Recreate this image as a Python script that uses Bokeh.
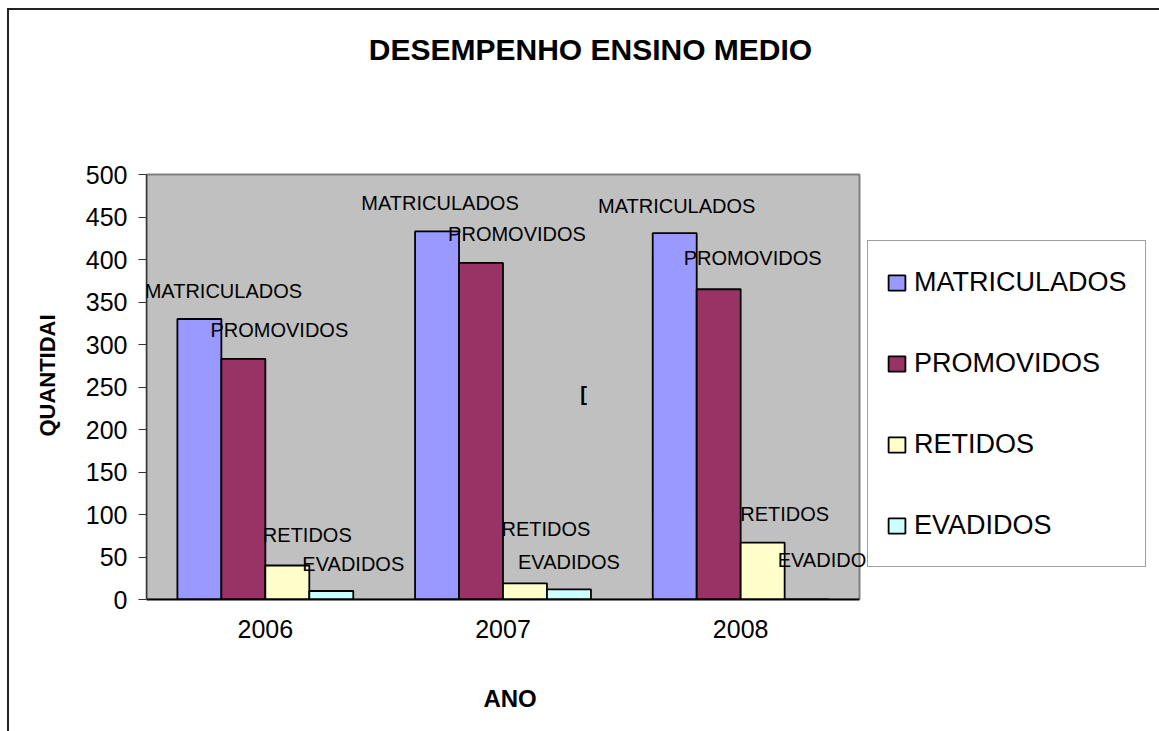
import math
from bokeh.plotting import figure
from bokeh.models import (Range1d, FixedTicker, ColumnDataSource, LabelSet,
                          Label, Legend, LegendItem, LinearAxis)
from bokeh.transform import dodge
from bokeh.core.properties import value
from bokeh.embed import file_html
from bokeh.resources import INLINE

# ---------------- data ----------------
years = ["2006", "2007", "2008"]
series = ["MATRICULADOS", "PROMOVIDOS", "RETIDOS", "EVADIDOS"]
matriculados = [330, 433, 431]
promovidos = [283, 396, 365]
retidos = [40, 19, 67]
evadidos = [10, 12, 0]
y_ticks = [0, 50, 100, 150, 200, 250, 300, 350, 400, 450, 500]

title_text = "DESEMPENHO ENSINO MEDIO"
y_title = "QUANTIDAI"
x_title = "ANO"

# ---------------- style / layout ----------------
colors = ["#9999FF", "#993366", "#FFFFCC", "#CCFFFF"]
bar_w = 0.185
offsets = [-1.5 * bar_w, -0.5 * bar_w, 0.5 * bar_w, 1.5 * bar_w]
# data-label pixel offsets (dx right, dy up) relative to the bar top
label_dx = [[24, 3, 2], [36, 36, 34], [20, 21, 22], [22, 0, 22]]
label_dy = [[28, 28, 27], [29, 29, 31], [31, 54, 29], [27, 27, 40]]
FONT = "Liberation Sans"

W, H = 1159, 731
LEFT, BOTTOM = 146, 132          # pixel margins of the plotting area
AREA_W, AREA_TOP = 713, 174      # width of plot area, its top in canvas px
px_per_cat = AREA_W / len(years)
y_max = y_ticks[-1]
px_per_unit = (H - BOTTOM - AREA_TOP) / y_max

values = [matriculados, promovidos, retidos, evadidos]
xpos = [i + 1 for i in range(len(years))]

x_start = 0.5
x_end = x_start + (W - LEFT) / px_per_cat
y_end = (H - BOTTOM) / px_per_unit

# where the axis titles sit (in axis units)
x_title_at = 2.03
y_title_at = 263.5

p = figure(width=W, height=H,
           x_range=Range1d(x_start, x_end), y_range=Range1d(0, y_end),
           output_backend="svg", toolbar_location=None,
           min_border_left=LEFT, min_border_right=0,
           min_border_top=0, min_border_bottom=BOTTOM,
           background_fill_color=None, border_fill_color=None,
           outline_line_color=None)
p.styles = {"background": "linear-gradient(#222222, #222222) 7px 8px / 2px 100% no-repeat, "
                          "linear-gradient(#222222, #222222) 7px 8px / 100% 2px no-repeat, #ffffff"}
p.xgrid.visible = False
p.ygrid.visible = False

# plot area (grey wall)
p.quad(left=[x_start], right=[len(years) + 0.5], bottom=[0], top=[y_max],
       fill_color="#C0C0C0", line_color="#808080", line_width=2)

src = ColumnDataSource(dict(x=xpos, year=years, **{s: v for s, v in zip(series, values)}))

renderers = []
for i, s in enumerate(series):
    r = p.vbar(x=dodge("x", offsets[i]), top=s, width=bar_w, bottom=0, source=src,
               fill_color=colors[i], line_color="black", line_width=1.8)
    renderers.append(r)

for i, s in enumerate(series):
    lsrc = ColumnDataSource(dict(x=xpos, y=values[i], text=[s] * len(years),
                                 dx=label_dx[i], dy=label_dy[i]))
    ls = LabelSet(x=dodge("x", offsets[i]), y="y", text="text",
                  x_offset="dx", y_offset="dy", source=lsrc,
                  text_align="center", text_baseline="middle",
                  text_font=value(FONT), text_font_size="20px", text_color="black")
    p.add_layout(ls)

# axes
ya = p.yaxis[0]
ya.bounds = (0, y_max)
ya.ticker = FixedTicker(ticks=y_ticks)
ya.major_label_text_font = FONT
ya.major_label_text_font_size = "25px"
ya.major_label_text_color = "black"
ya.major_tick_out = 8
ya.major_tick_in = 0
ya.minor_tick_out = 0
ya.minor_tick_in = 0
ya.major_tick_line_color = "#333333"
ya.axis_line_color = "#333333"
ya.axis_line_width = 1.5
ya.major_label_standoff = 11

xa = p.xaxis[0]
xa.bounds = (x_start, len(years) + 0.5)
xa.ticker = FixedTicker(ticks=xpos)
xa.major_label_overrides = {x: y for x, y in zip(xpos, years)}
xa.major_label_text_font = FONT
xa.major_label_text_font_size = "25px"
xa.major_label_text_color = "black"
xa.major_tick_out = 0
xa.major_tick_in = 0
xa.minor_tick_out = 0
xa.minor_tick_in = 0
xa.axis_line_color = "black"
xa.axis_line_width = 2
xa.major_label_standoff = 20

# axis titles, carried by label-only axes so they sit over the plot area
ytitle_axis = LinearAxis(ticker=FixedTicker(ticks=[y_title_at]),
                         major_label_overrides={y_title_at: y_title},
                         major_label_orientation="vertical",
                         major_label_text_font=FONT, major_label_text_font_size="22px",
                         major_label_text_font_style="bold", major_label_text_color="black",
                         major_label_standoff=16, axis_line_color=None,
                         major_tick_line_color=None, minor_tick_line_color=None)
p.add_layout(ytitle_axis, "left")

xtitle_axis = LinearAxis(ticker=FixedTicker(ticks=[x_title_at]),
                         major_label_overrides={x_title_at: x_title},
                         major_label_text_font=FONT, major_label_text_font_size="24px",
                         major_label_text_font_style="bold", major_label_text_color="black",
                         major_label_standoff=38, axis_line_color=None,
                         major_tick_line_color=None, minor_tick_line_color=None)
p.add_layout(xtitle_axis, "below")

# chart title
p.add_layout(Label(x=590, y=49, x_units="canvas", y_units="canvas", text=title_text,
                   text_align="center", text_baseline="middle", text_font=FONT,
                   text_font_style="bold", text_font_size="30px", text_color="black"))

# stray glyph visible in the plot area of the reference
p.add_layout(Label(x=583, y=393, x_units="canvas", y_units="canvas", text="[",
                   text_align="center", text_baseline="middle", text_font=FONT,
                   text_font_style="bold", text_font_size="20px", text_color="black"))

legend = Legend(items=[LegendItem(label=s, renderers=[r]) for s, r in zip(series, renderers)],
                location=(AREA_W + 8, 32), orientation="vertical",
                label_text_font=FONT, label_text_font_size="27px", label_text_color="black",
                glyph_width=21, glyph_height=19, label_height=46, spacing=35,
                padding=18, label_standoff=7, margin=0,
                border_line_color="#444444", border_line_width=1.5,
                background_fill_color="white", background_fill_alpha=1.0)
p.add_layout(legend)

open("out.html", "w").write(file_html(p, INLINE))
